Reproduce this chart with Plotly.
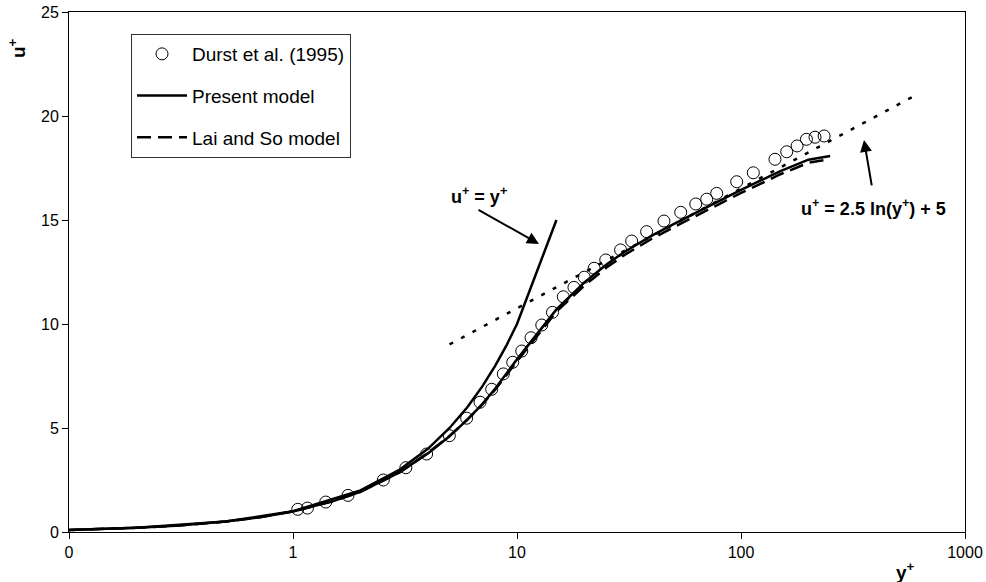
import plotly.graph_objects as go

# Durst et al. (1995) measurements
durst_y = [1.05, 1.16, 1.40, 1.76, 2.53, 3.19, 3.95, 4.99, 5.96, 6.84, 7.71, 8.69, 9.57, 10.5,
           11.55, 12.9, 14.4, 16.1, 17.96, 19.96, 22.1, 24.9, 29.0, 32.5, 37.9, 45.3, 53.8,
           62.8, 70.3, 77.9, 95.7, 113.5, 141.8, 160, 178, 196, 214, 235]
durst_u = [1.09, 1.15, 1.44, 1.76, 2.5, 3.09, 3.75, 4.63, 5.47, 6.24, 6.86, 7.6, 8.16, 8.7,
           9.34, 9.95, 10.56, 11.31, 11.76, 12.25, 12.68, 13.08, 13.56, 13.99, 14.44, 14.95, 15.37,
           15.77, 16.0, 16.28, 16.84, 17.27, 17.92, 18.28, 18.56, 18.88, 18.98, 19.04]

# Present model
present_y = [0.1, 0.2, 0.3, 0.5, 0.7, 1, 1.5, 2, 3, 4, 5, 6, 7, 8, 10, 12, 15, 20, 25, 30,
             40, 50, 70, 100, 150, 200, 250]
present_u = [0.1, 0.2, 0.3, 0.5, 0.7, 0.99, 1.47, 1.93, 2.88, 3.78, 4.6, 5.4, 6.15, 6.9, 8.3,
             9.4, 10.7, 12.0, 12.85, 13.45, 14.25, 14.8, 15.6, 16.45, 17.35, 17.9, 18.08]

# Lai and So model
laiso_y = [0.1, 0.2, 0.3, 0.5, 0.7, 1, 1.5, 2, 3, 4, 5, 6, 7, 8, 10, 12, 15, 20, 25, 30,
           40, 50, 70, 100, 150, 200, 250]
laiso_u = [0.1, 0.2, 0.3, 0.5, 0.7, 0.99, 1.47, 1.93, 2.88, 3.8, 4.62, 5.4, 6.13, 6.85, 8.2,
           9.3, 10.6, 11.85, 12.7, 13.3, 14.1, 14.65, 15.45, 16.3, 17.2, 17.75, 17.92]

# Viscous sublayer line u+ = y+
visc_y = [0.1, 0.2, 0.5, 1, 2, 3, 4, 5, 6, 7, 8, 9, 10, 15]
visc_u = [0.1, 0.2, 0.5, 1, 2, 3, 4, 5, 6, 7, 8, 9, 10, 15]

# Log law u+ = 2.5 ln(y+) + 5
log_y = [5, 10, 20, 50, 100, 200, 600]
log_u = [9.02, 10.76, 12.49, 14.78, 16.51, 18.25, 20.99]

x_tickvals = [0.1, 1, 10, 100, 1000]
x_ticktext = ["0", "1", "10", "100", "1000"]

FONT = "Liberation Sans, Arial, sans-serif"

# plot area in page pixels: left 69, right 965, top 12, bottom 532
def px(xs):
    return (xs - 69) / 896

def py(ys):
    return (532 - ys) / 520

fig = go.Figure()
fig.add_trace(go.Scatter(x=durst_y, y=durst_u, mode="markers", name="Durst et al. (1995)",
                         marker=dict(symbol="circle-open", size=12, color="black",
                                     line=dict(width=1, color="black")),
                         legendgroup="a"))
fig.add_trace(go.Scatter(x=present_y, y=present_u, mode="lines", name="Present model",
                         line=dict(color="black", width=2.5), legendgroup="b"))
fig.add_trace(go.Scatter(x=laiso_y, y=laiso_u, mode="lines", name="Lai and So model",
                         line=dict(color="black", width=2.5, dash="14px,7px"), legendgroup="c"))
fig.add_trace(go.Scatter(x=visc_y, y=visc_u, mode="lines", showlegend=False,
                         line=dict(color="black", width=2.5)))
fig.add_trace(go.Scatter(x=log_y, y=log_u, mode="lines", showlegend=False,
                         line=dict(color="black", width=2.5, dash="4px,9px")))

fig.update_layout(
    width=986, height=582,
    margin=dict(l=69, r=21, t=12, b=50, autoexpand=False),
    paper_bgcolor="white", plot_bgcolor="white",
    font=dict(family=FONT, size=16, color="black"),
    showlegend=True,
    legend=dict(x=px(131), y=py(34), xanchor="left", yanchor="top",
                bordercolor="#333333", borderwidth=1, bgcolor="white",
                font=dict(size=19), tracegroupgap=14, itemwidth=50),
    xaxis=dict(type="log", range=[-1, 3], tickvals=x_tickvals, ticktext=x_ticktext,
               showgrid=False, zeroline=False, showline=True, linecolor="black", linewidth=1,
               mirror=True, ticks="outside", ticklen=6, tickcolor="black",
               tickfont=dict(size=16), automargin=False),
    yaxis=dict(range=[0, 25], dtick=5, showgrid=False, zeroline=False, showline=True,
               linecolor="black", linewidth=1, mirror=True, ticks="outside", ticklen=6,
               tickcolor="black", tickfont=dict(size=16), automargin=False),
    annotations=[
        dict(xref="paper", yref="paper", x=px(905), y=py(571), xanchor="center", yanchor="middle",
             text="<b>y<sup>+</sup></b>", showarrow=False, font=dict(size=19)),
        dict(xref="paper", yref="paper", x=px(17), y=py(48), xanchor="center", yanchor="middle",
             text="<b>u<sup>+</sup></b>", showarrow=False, textangle=-90, font=dict(size=19)),
        dict(x=1.098, y=13.85, xref="x", yref="y", ax=-62, ay=-35, text="",
             showarrow=True, arrowhead=2, arrowsize=1.2, arrowwidth=2, arrowcolor="black"),
        dict(xref="paper", yref="paper", x=px(479), y=py(196), xanchor="center", yanchor="middle",
             text="<b>u<sup>+</sup> = y<sup>+</sup></b>", showarrow=False, font=dict(size=18)),
        dict(x=2.549, y=18.85, xref="x", yref="y", ax=8, ay=47, text="",
             showarrow=True, arrowhead=2, arrowsize=1.2, arrowwidth=2, arrowcolor="black"),
        dict(xref="paper", yref="paper", x=px(873), y=py(207), xanchor="center", yanchor="middle",
             text="<b>u<sup>+</sup> = 2.5 ln(y<sup>+</sup>) + 5</b>", showarrow=False,
             font=dict(size=18)),
    ],
)

fig.write_html("out.html", config={"displayModeBar": False},
               post_script="document.body.style.margin='0';")
